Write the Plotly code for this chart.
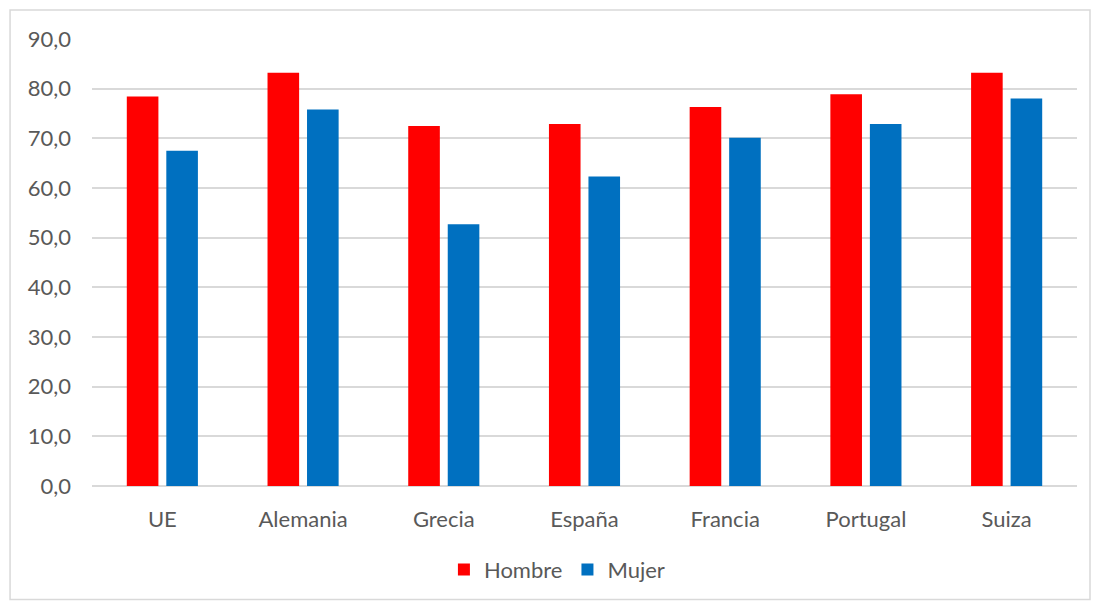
import plotly.graph_objects as go

# Categories and values per sex
paises = ["UE", "Alemania", "Grecia", "España", "Francia", "Portugal", "Suiza"]
hombre = [78.4, 83.2, 72.5, 72.9, 76.3, 78.9, 83.2]
mujer = [67.5, 75.8, 52.7, 62.3, 70.1, 72.9, 78.0]
y_ticks = [0, 10, 20, 30, 40, 50, 60, 70, 80, 90]

ROJO = "#ff0000"
AZUL = "#0070c0"
GRIS_TEXTO = "#595959"
GRIS_REJILLA = "#d9d9d9"
FUENTE = "Lato"

fig = go.Figure()
fig.add_trace(go.Bar(name="Hombre", x=paises, y=hombre, marker_color=ROJO,
                     marker_line_width=0))
fig.add_trace(go.Bar(name="Mujer", x=paises, y=mujer, marker_color=AZUL,
                     marker_line_width=0))

fig.update_layout(
    width=1093, height=603,
    barmode="group", bargap=0.4385, bargroupgap=0.2,
    separators=",.",
    paper_bgcolor="white", plot_bgcolor="white",
    margin=dict(l=92, r=16, t=39, b=115),
    font=dict(family=FUENTE, size=22, color=GRIS_TEXTO),
    showlegend=True,
    legend=dict(orientation="h", x=0.472, xanchor="center", y=-0.187,
                yanchor="middle", font=dict(size=22, color=GRIS_TEXTO),
                itemwidth=30, tracegroupgap=0),
    shapes=[dict(type="rect", xref="paper", yref="paper",
                 x0=-0.0832, x1=1.0132, y0=-0.2539, y1=1.0646,
                 line=dict(color=GRIS_REJILLA, width=1.5), layer="below")],
)

fig.update_xaxes(showgrid=False, showline=False, ticks="", ticklabelstandoff=18)
fig.update_yaxes(range=[0, 90], tickvals=y_ticks, tickformat=".1f",
                 showgrid=True, gridcolor=GRIS_REJILLA, gridwidth=1.5,
                 zeroline=True, zerolinecolor=GRIS_REJILLA, zerolinewidth=1.5,
                 showline=False, ticks="", ticklabelstandoff=20)

fig.write_html("out.html")
